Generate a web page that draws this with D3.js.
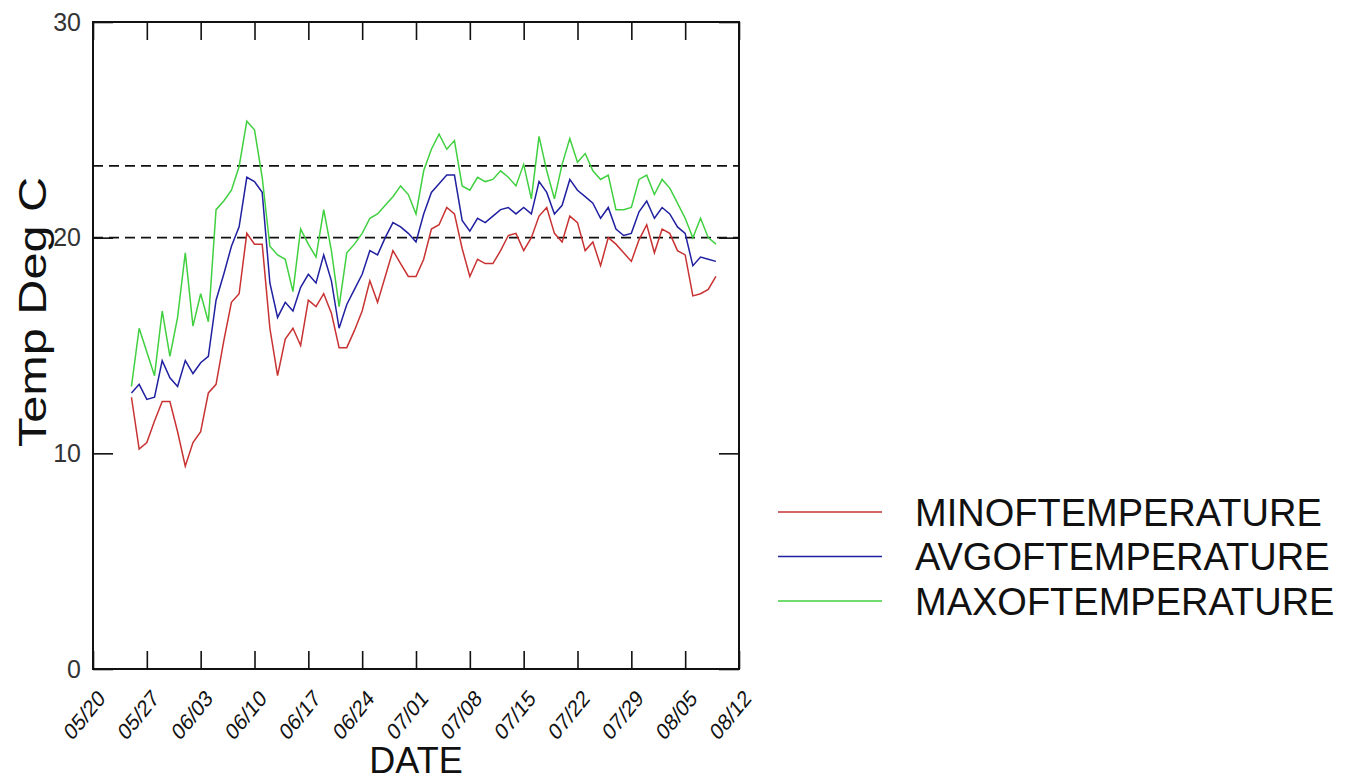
<!DOCTYPE html>
<html>
<head>
<meta charset="utf-8">
<script src="https://cdn.jsdelivr.net/npm/d3@7"></script>
<style>
  body { margin: 0; background: #fff; }
  text { font-family: "Liberation Sans", Arial, sans-serif; }
</style>
</head>
<body>
<div id="chart"></div>
<script>
// daily values, first day 05/25
const firstDay = "05/25";

const minTemp = [12.6, 10.2, 10.5, 11.5, 12.4, 12.4, 11.0, 9.4, 10.5, 11.0,
  12.8, 13.2, 15.2, 17.0, 17.4, 20.2, 19.7, 19.7, 15.8, 13.6,
  15.3, 15.8, 15.0, 17.1, 16.8, 17.4, 16.5, 14.9, 14.9, 15.7,
  16.6, 18.0, 17.0, 18.2, 19.4, 18.8, 18.2, 18.2, 19.0, 20.4,
  20.6, 21.4, 21.1, 19.5, 18.2, 19.0, 18.8, 18.8, 19.4, 20.1,
  20.2, 19.4, 20.0, 21.0, 21.4, 20.2, 19.8, 21.0, 20.7, 19.4,
  19.8, 18.7, 20.0, 19.7, 19.3, 18.9, 19.9, 20.6, 19.3, 20.4,
  20.2, 19.4, 19.2, 17.3, 17.4, 17.6, 18.2];

const avgTemp = [12.8, 13.2, 12.5, 12.6, 14.3, 13.5, 13.1, 14.3, 13.7, 14.2,
  14.5, 17.1, 18.3, 19.6, 20.5, 22.8, 22.6, 22.1, 17.9, 16.3,
  17.0, 16.6, 17.7, 18.3, 17.9, 19.2, 18.0, 15.8, 16.9, 17.6,
  18.3, 19.4, 19.2, 20.0, 20.7, 20.5, 20.2, 19.8, 21.1, 22.1,
  22.5, 22.9, 22.9, 20.8, 20.3, 20.9, 20.7, 21.0, 21.3, 21.4,
  21.1, 21.4, 21.1, 22.6, 22.1, 21.1, 21.5, 22.7, 22.2, 21.9,
  21.6, 20.9, 21.4, 20.4, 20.1, 20.2, 21.2, 21.7, 20.9, 21.4,
  21.1, 20.5, 20.2, 18.7, 19.1, 19.0, 18.9];

const maxTemp = [13.1, 15.8, 14.7, 13.6, 16.6, 14.5, 16.3, 19.3, 15.9, 17.4,
  16.1, 21.3, 21.7, 22.2, 23.3, 25.4, 25.0, 22.8, 19.6, 19.2,
  19.0, 17.5, 20.4, 19.7, 19.1, 21.3, 19.4, 16.8, 19.3, 19.7,
  20.2, 20.9, 21.1, 21.5, 21.9, 22.4, 22.0, 21.1, 23.1, 24.1,
  24.8, 24.1, 24.5, 22.4, 22.2, 22.8, 22.6, 22.7, 23.1, 22.8,
  22.4, 23.4, 21.8, 24.7, 23.1, 21.8, 23.4, 24.6, 23.5, 23.9,
  23.1, 22.7, 22.9, 21.3, 21.3, 21.4, 22.7, 22.9, 22.0, 22.7,
  22.3, 21.6, 20.9, 20.0, 20.9, 20.0, 19.7];

const tickLabels = ["05/20", "05/27", "06/03", "06/10", "06/17", "06/24", "07/01",
  "07/08", "07/15", "07/22", "07/29", "08/05", "08/12"];
const yTicks = [0, 10, 20, 30];
const refLines = [20, 23.33];

const seriesNames = ["MINOFTEMPERATURE", "AVGOFTEMPERATURE", "MAXOFTEMPERATURE"];
const seriesColors = ["#c83232", "#2020a0", "#40d040"];

const width = 1348, height = 782;
const margin = { top: 22, right: 609, bottom: 113, left: 93 };
const plotW = width - margin.left - margin.right;
const plotH = height - margin.top - margin.bottom;

const parse = d3.timeParse("%m/%d");
const tickDates = tickLabels.map(parse);
const start = parse(firstDay);

const svg = d3.select("#chart").append("svg")
  .attr("width", width)
  .attr("height", height);

const g = svg.append("g")
  .attr("transform", `translate(${margin.left},${margin.top})`);

const x = d3.scaleTime()
  .domain([tickDates[0], tickDates[tickDates.length - 1]])
  .range([0, plotW]);

const y = d3.scaleLinear()
  .domain([0, 30])
  .range([plotH, 0]);

// reference lines
g.selectAll(".ref")
  .data(refLines)
  .enter().append("line")
  .attr("x1", 0).attr("x2", plotW)
  .attr("y1", d => y(d)).attr("y2", d => y(d))
  .attr("stroke", "#111")
  .attr("stroke-width", 1.6)
  .attr("stroke-dasharray", "10,6");

// axes with inward ticks
const bottomAxis = g.append("g")
  .attr("transform", `translate(0,${plotH})`)
  .call(d3.axisBottom(x).tickValues(tickDates).tickSizeInner(-18).tickSizeOuter(0)
    .tickFormat(d3.timeFormat("%m/%d")));

bottomAxis.selectAll("text")
  .attr("x", 0).attr("y", 0).attr("dy", "0.35em")
  .attr("text-anchor", "end")
  .attr("transform", "translate(8,25) scale(0.92,1.12) rotate(-45)")
  .attr("font-size", 21)
  .attr("fill", "#111");

g.append("g")
  .call(d3.axisTop(x).tickValues(tickDates).tickSizeInner(-18).tickSizeOuter(0).tickFormat(""));

g.append("g")
  .call(d3.axisLeft(y).tickValues(yTicks).tickSizeInner(-20).tickSizeOuter(0).tickPadding(12))
  .selectAll("text")
  .attr("font-size", 25)
  .attr("fill", "#333");

g.append("g")
  .attr("transform", `translate(${plotW},0)`)
  .call(d3.axisRight(y).tickValues(yTicks).tickSizeInner(-20).tickSizeOuter(0).tickFormat(""));

g.selectAll(".domain").remove();
g.selectAll(".tick line").attr("stroke", "#111").attr("stroke-width", 1.6);

// frame
g.append("rect")
  .attr("width", plotW)
  .attr("height", plotH)
  .attr("fill", "none")
  .attr("stroke", "#111")
  .attr("stroke-width", 2);

// series
const series = [minTemp, avgTemp, maxTemp];
const line = d3.line()
  .x((d, i) => x(d3.timeDay.offset(start, i)))
  .y(d => y(d));

g.selectAll(".series")
  .data(series)
  .enter().append("path")
  .attr("d", d => line(d))
  .attr("fill", "none")
  .attr("stroke", (d, i) => seriesColors[i])
  .attr("stroke-width", 1.5);

// axis titles
svg.append("text")
  .attr("transform", "translate(46,312) scale(1,1.28) rotate(-90)")
  .attr("text-anchor", "middle")
  .attr("font-size", 38)
  .attr("fill", "#111")
  .text("Temp Deg C");

svg.append("text")
  .attr("x", margin.left + plotW / 2)
  .attr("y", 773)
  .attr("text-anchor", "middle")
  .attr("font-size", 36)
  .attr("fill", "#111")
  .text("DATE");

// legend
const legend = svg.append("g")
  .attr("transform", "translate(778,512)");

const item = legend.selectAll("g")
  .data(seriesNames)
  .enter().append("g")
  .attr("transform", (d, i) => `translate(0,${i * 44.5})`);

item.append("line")
  .attr("x1", 0).attr("x2", 104)
  .attr("stroke", (d, i) => seriesColors[i])
  .attr("stroke-width", 1.5);

item.append("text")
  .attr("x", 137)
  .attr("dy", "0.36em")
  .attr("font-size", 38)
  .attr("fill", "#111")
  .text(d => d);
</script>
</body>
</html>
